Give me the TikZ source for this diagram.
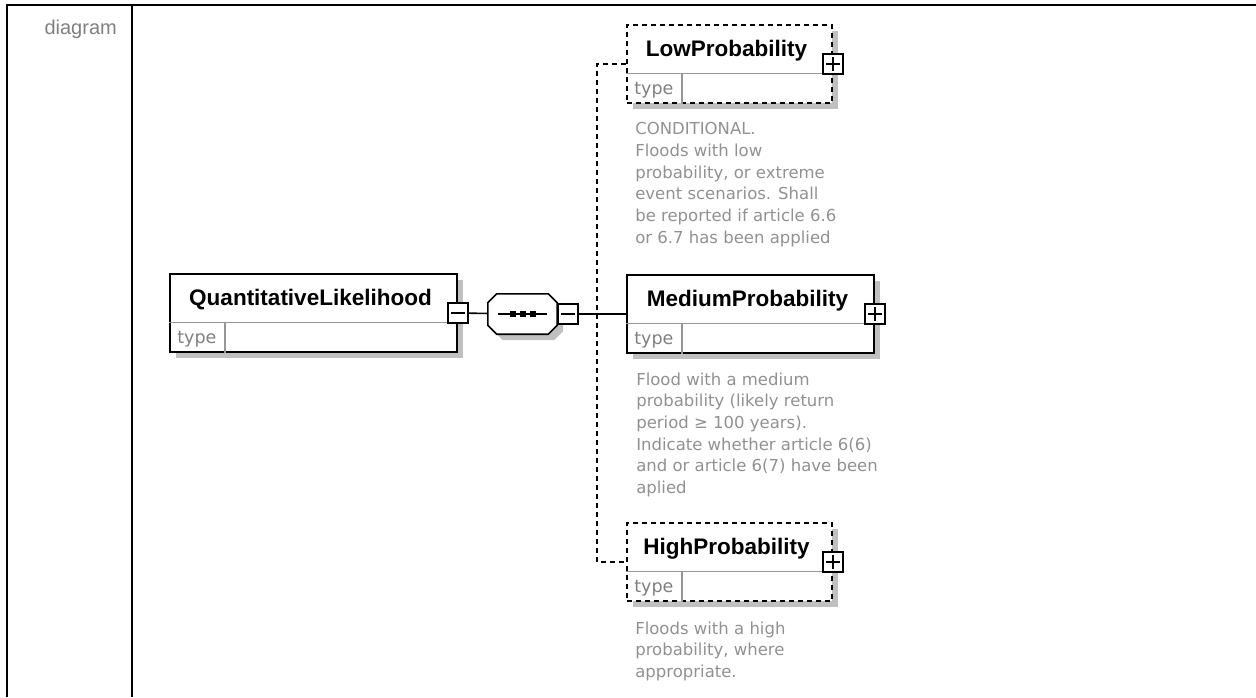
\documentclass[tikz,border=0pt]{standalone}
\usepackage{fontspec}
\setmainfont{Liberation Sans}
\newfontfamily\descfont{DejaVu Sans}
\usetikzlibrary{positioning, calc, shadows}

\definecolor{labelgray}{RGB}{128,128,128}
\definecolor{descgray}{RGB}{145,145,145}
\definecolor{shadowgray}{RGB}{192,192,192}
\definecolor{dividergray}{RGB}{150,150,150}

\begin{document}
\begin{tikzpicture}[x=1pt, y=-1pt,
        element/.style={rectangle, draw=black, line width=1.8pt, fill=white, minimum height=78pt, inner sep=0pt,
            drop shadow={shadow xshift=6pt, shadow yshift=-6pt, opacity=1, fill=shadowgray}},
        optional/.style={element, dash pattern=on 5pt off 4pt},
        title/.style={font=\bfseries\fontsize{22.5}{27}\selectfont, inner sep=0pt, anchor=base},
        typelabel/.style={font=\descfont\fontsize{17.5}{21}\selectfont, text=labelgray, inner sep=0pt, anchor=west},
        desc/.style={font=\descfont\fontsize{16.5}{21.7}\selectfont, text=descgray, align=left, inner sep=0pt},
        divider/.style={draw=dividergray, line width=1.3pt},
        toggle/.style={rectangle, draw=black, line width=1.6pt, fill=white, minimum size=20pt, inner sep=0pt},
        minus/.style={toggle, path picture={
            \draw[line width=1.6pt] ([xshift=-7pt]path picture bounding box.center) -- ([xshift=7pt]path picture bounding box.center);}},
        plus/.style={toggle, path picture={
            \draw[line width=1.6pt] ([xshift=-7pt]path picture bounding box.center) -- ([xshift=7pt]path picture bounding box.center);
            \draw[line width=1.6pt] ([yshift=-7pt]path picture bounding box.center) -- ([yshift=7pt]path picture bounding box.center);}},
        seqbox/.style={rectangle, minimum width=69pt, minimum height=40pt, inner sep=0pt},
        seqshape/.style={draw=black, line width=1.6pt, fill=white,
            drop shadow={shadow xshift=6pt, shadow yshift=-6pt, opacity=1, fill=shadowgray}},
        link/.style={draw=black, line width=1.6pt},
        optlink/.style={link, dash pattern=on 5pt off 4pt},
        grid/.style={draw=black, line width=2pt}
    ]
        \useasboundingbox (0,0) rectangle (1256,697);

        % --- TABLE ---
        \draw[grid] (1256,5) -- (7,5) -- (7,697);
        \draw[grid] (132,5) -- (132,697);
        \node[font=\fontsize{20}{24}\selectfont, text=labelgray, anchor=base east, inner sep=0pt] (diaglabel) at (117,34) {diagram};

        % --- ELEMENTS ---
        \node[element, minimum width=287pt] (ql) at (313.5,313) {};
        \node[optional, minimum width=205pt] (low) at (729.5,64) {};
        \node[element, minimum width=247pt] (medium) at (750.5,314) {};
        \node[optional, minimum width=205pt] (high) at (729.5,562) {};

        \foreach \el/\txt in {ql/QuantitativeLikelihood, low/LowProbability, medium/MediumProbability, high/HighProbability} {
            \draw[divider] ([yshift=-9.5pt]\el.west) -- ([yshift=-9.5pt]\el.east);
            \draw[divider] ([xshift=56pt,yshift=-9.5pt]\el.west) -- ([xshift=56pt]\el.south west);
            \node[title] at ([xshift=-3pt,yshift=-32pt]\el.north) {\txt};
            \node[typelabel] at ([xshift=8pt,yshift=-26.5pt]\el.west) {type};
        }

        % --- TOGGLES ---
        \node[minus] (qlminus) at (ql.east) {};
        \node[plus] (lowplus) at (low.east) {};
        \node[plus] (mediumplus) at (medium.east) {};
        \node[plus] (highplus) at (high.east) {};

        % --- SEQUENCE ---
        \node[seqbox] (seq) at (522.5,314) {};
        \draw[seqshape] ([xshift=9pt]seq.north west) -- ([xshift=-9pt]seq.north east) -- ([yshift=-9pt]seq.north east)
            -- ([yshift=9pt]seq.south east) -- ([xshift=-9pt]seq.south east) -- ([xshift=9pt]seq.south west)
            -- ([yshift=9pt]seq.south west) -- ([yshift=-9pt]seq.north west) -- cycle;
        \draw[link] ([xshift=-24.5pt]seq.center) -- ([xshift=24.5pt]seq.center);
        \foreach \dx in {-10,0,10}
            \fill ([xshift=\dx pt]seq.center) +(-3,-3) rectangle +(3,3);
        \node[minus, right=0pt of seq] (seqminus) {};

        % --- CONNECTIONS ---
        \coordinate (fork) at (597,314);
        \draw[link] (qlminus) -- (seq);
        \draw[link] (seqminus) -- (medium);
        \draw[optlink] (low.west) -| (fork) |- (high.west);

        % --- DESCRIPTIONS ---
        \node[desc, below right=18.5pt and 9pt of low.south west] (lowdesc)
            {CONDITIONAL.\\Floods with low\\probability, or extreme\\event scenarios. Shall\\be reported if article 6.6\\or 6.7 has been applied};
        \node[desc, below right=18.5pt and 10pt of medium.south west] (mediumdesc)
            {Flood with a medium\\probability (likely return\\period ≥ 100 years).\\Indicate whether article 6(6)\\and or article 6(7) have been\\aplied};
        \node[desc, below right=19.5pt and 9pt of high.south west] (highdesc)
            {Floods with a high\\probability, where\\appropriate.};

    \end{tikzpicture}
\end{document}
